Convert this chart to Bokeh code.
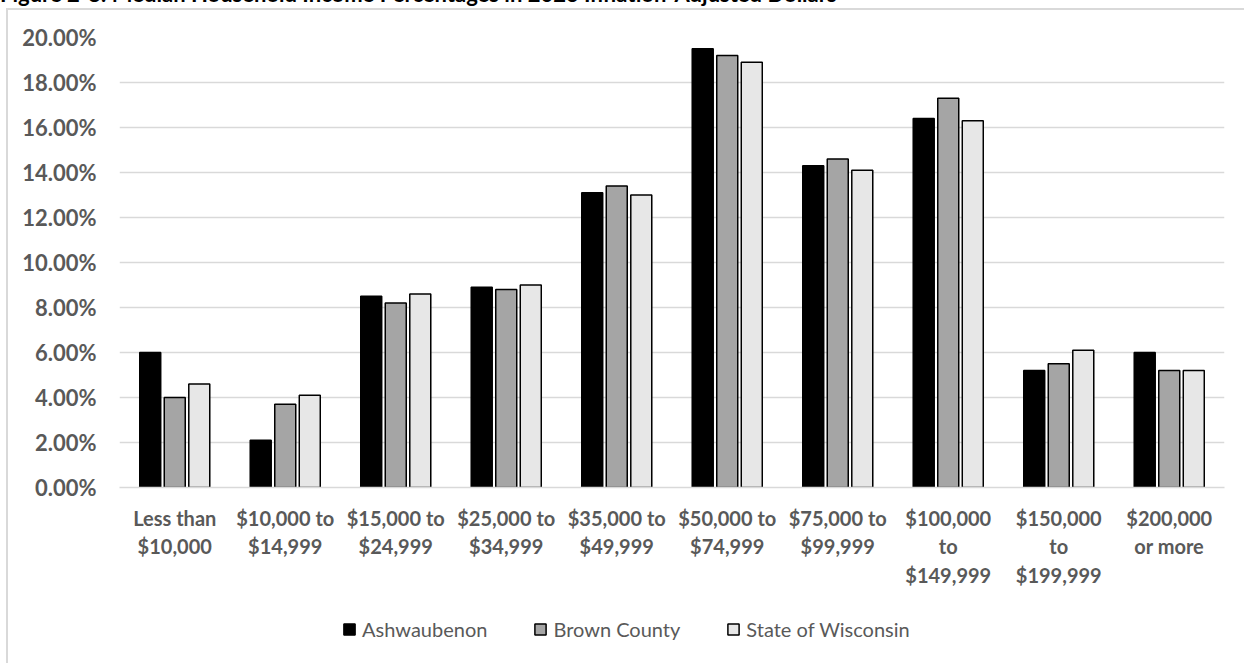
from bokeh.plotting import figure
from bokeh.models import (FactorRange, Range1d, ColumnDataSource, PrintfTickFormatter,
                          FixedTicker, Legend, LegendItem, Div)
from bokeh.layouts import column
from bokeh.transform import dodge
from bokeh.embed import file_html
from bokeh.resources import INLINE

# Income brackets, written as they appear under the bars
categories = ["Less than\n$10,000", "$10,000 to\n$14,999", "$15,000 to\n$24,999",
              "$25,000 to\n$34,999", "$35,000 to\n$49,999", "$50,000 to\n$74,999",
              "$75,000 to\n$99,999", "$100,000\nto\n$149,999", "$150,000\nto\n$199,999",
              "$200,000\nor more"]

# Share of households in each bracket (percent)
ashwaubenon = [6.0, 2.1, 8.5, 8.9, 13.1, 19.5, 14.3, 16.4, 5.2, 6.0]
brown_county = [4.0, 3.7, 8.2, 8.8, 13.4, 19.2, 14.6, 17.3, 5.5, 5.2]
wisconsin = [4.6, 4.1, 8.6, 9.0, 13.0, 18.9, 14.1, 16.3, 6.1, 5.2]

series_names = ["Ashwaubenon", "Brown County", "State of Wisconsin"]
y_ticks = [0, 2, 4, 6, 8, 10, 12, 14, 16, 18, 20]

title_text = "Figure 2-8: Median Household Income Percentages in 2023 Inflation-Adjusted Dollars"

GRID = "#d9d9d9"
TEXT = "#595959"
FONT = "Lato"
fills = ["#000000", "#a5a5a5", "#e7e7e7"]
fields = ["ash", "brown", "wi"]
offsets = [-0.222, 0.0, 0.222]

source = ColumnDataSource(dict(cat=categories, ash=ashwaubenon,
                               brown=brown_county, wi=wisconsin))

p = figure(width=1236, height=591, output_backend="svg", toolbar_location=None,
           x_range=FactorRange(*categories, range_padding=0),
           y_range=Range1d(0, 20),
           min_border_left=111, min_border_right=20,
           min_border_top=27, min_border_bottom=114)
p.outline_line_color = None
p.background_fill_color = "white"
p.border_fill_color = "white"

for fld, col, off in zip(fields, fills, offsets):
    p.vbar(x=dodge("cat", off, range=p.x_range), top=fld, width=0.19,
           source=source, fill_color=col, line_color="black", line_width=1.5)

# grid
p.xgrid.grid_line_color = None
p.ygrid.grid_line_color = GRID
p.ygrid.grid_line_width = 1.5
p.ygrid.ticker = FixedTicker(ticks=y_ticks)

# y axis
p.yaxis.ticker = FixedTicker(ticks=y_ticks)
p.yaxis.formatter = PrintfTickFormatter(format="%.2f%%")
p.yaxis.axis_line_color = None
p.yaxis.major_tick_line_color = None
p.yaxis.minor_tick_line_color = None
p.yaxis.major_label_standoff = 17
p.yaxis.major_label_text_font = FONT
p.yaxis.major_label_text_font_style = "bold"
p.yaxis.major_label_text_font_size = "22px"
p.yaxis.major_label_text_color = TEXT

# x axis
p.xaxis.axis_line_color = GRID
p.xaxis.axis_line_width = 1.5
p.xaxis.major_tick_line_color = None
p.xaxis.minor_tick_line_color = None
p.xaxis.major_label_standoff = 12
p.xaxis.major_label_text_font = FONT
p.xaxis.major_label_text_font_style = "bold"
p.xaxis.major_label_text_font_size = "20px"
p.xaxis.major_label_text_color = TEXT

# legend strip; its series share the data source but sit outside the visible y-range
lg = figure(width=1236, height=63, output_backend="svg", toolbar_location=None,
            x_range=p.x_range, y_range=Range1d(100, 101),
            x_axis_type=None, y_axis_type=None, min_border=0)
lg.outline_line_color = None
lg.xgrid.grid_line_color = None
lg.ygrid.grid_line_color = None
swatches = [lg.vbar(x=dodge("cat", off, range=lg.x_range), top=fld, width=0.19, source=source,
                    fill_color=c, line_color="black", line_width=1.5)
            for fld, c, off in zip(fields, fills, offsets)]
legend = Legend(items=[LegendItem(label=n, renderers=[r]) for n, r in zip(series_names, swatches)],
                orientation="horizontal", location=(223, 23),
                glyph_width=14, glyph_height=14, label_standoff=6, spacing=46,
                padding=0, margin=0, border_line_color=None, background_fill_alpha=0,
                label_text_font=FONT, label_text_font_size="20px",
                label_text_color=TEXT)
lg.add_layout(legend, "center")

chart_box = column(p, lg, spacing=0,
                   styles={"border-left": f"2px solid {GRID}", "border-top": f"2px solid {GRID}",
                           "margin-left": "6px", "margin-top": "4px"})

caption = Div(text=title_text, width=1244, height=20, margin=(-16, 0, 0, 0),
              styles={"font-family": FONT, "font-weight": "bold", "font-size": "22px",
                      "line-height": "20px", "color": "black", "white-space": "nowrap"})

page = column(caption, chart_box, spacing=0)
open("out.html", "w").write(file_html(page, INLINE))
